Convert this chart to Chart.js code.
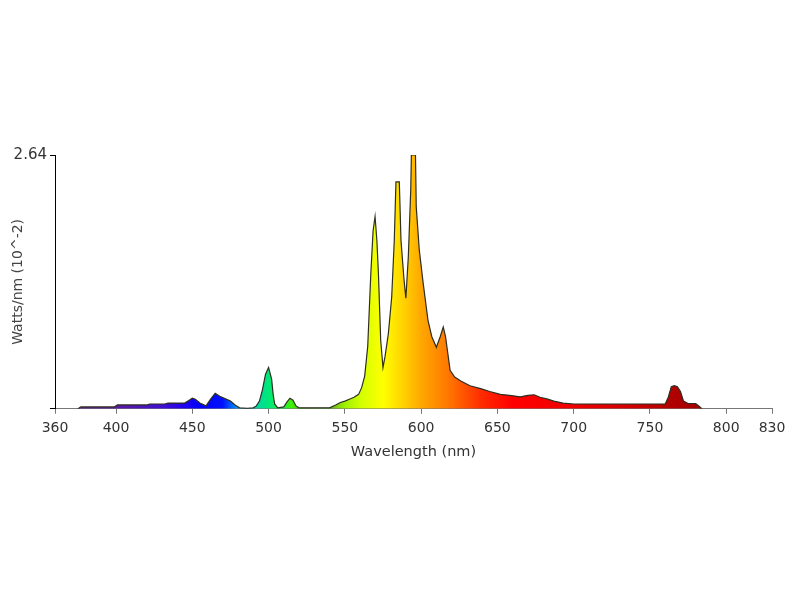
<!DOCTYPE html>
<html>
<head>
<meta charset="utf-8">
<script src="https://cdn.jsdelivr.net/npm/chart.js@4.4.1/dist/chart.umd.min.js"></script>
<style>
  body { margin: 0; background: #fff; }
  #wrap { width: 800px; height: 600px; }
</style>
</head>
<body>
<div id="wrap"><canvas id="spectrum"></canvas></div>
<script>
// wavelength (nm) and power (Watts/nm, x10^-2)
var wavelengths = [375, 377, 399, 401, 420, 422, 432, 434, 445, 448, 450, 452, 455, 459, 462, 465, 468, 471, 475, 478, 481, 486,
  490, 492, 494, 496, 498, 500, 502, 503, 504, 506, 510, 512, 514, 516, 518, 520, 540, 544, 547, 550, 553, 556, 559, 561, 563,
  565, 567, 568.5, 569.8, 571, 572, 573.5, 575, 576.3, 578.5, 580.7, 582.4, 583.5, 585.7, 586.8, 588.8, 590, 591.6, 593.2, 593.6,
  596.3, 596.8, 598.8, 601.4, 604.5, 607, 610, 612.5, 614.5, 616, 619, 622, 626, 632, 639, 645, 652, 658, 665, 670, 674, 678, 683,
  687, 693, 700, 760, 762, 764, 766, 768, 770, 772, 775, 780, 782, 784];
var power = [0, 0.02, 0.02, 0.04, 0.04, 0.05, 0.05, 0.06, 0.06, 0.09, 0.11, 0.10, 0.06, 0.03, 0.10, 0.16, 0.13, 0.11, 0.08, 0.04, 0.01, 0.005,
  0.01, 0.03, 0.08, 0.20, 0.36, 0.43, 0.31, 0.15, 0.05, 0.01, 0.02, 0.07, 0.11, 0.09, 0.03, 0.01, 0.01, 0.04, 0.065, 0.08, 0.10, 0.12, 0.15, 0.22, 0.34,
  0.65, 1.40, 1.85, 2.0, 1.75, 1.41, 0.71, 0.43, 0.54, 0.78, 1.16, 1.75, 2.36, 2.36, 1.75, 1.34, 1.15, 1.58, 2.28, 2.64,
  2.64, 2.10, 1.65, 1.30, 0.92, 0.75, 0.64, 0.75, 0.85, 0.75, 0.40, 0.33, 0.29, 0.24, 0.21, 0.18, 0.15, 0.14, 0.125, 0.14, 0.146, 0.12, 0.10,
  0.08, 0.06, 0.05, 0.05, 0.12, 0.23, 0.24, 0.23, 0.18, 0.08, 0.055, 0.055, 0.03, 0];
var xTicks = [360, 400, 450, 500, 550, 600, 650, 700, 750, 800, 830];
var yTicks = [0, 2.64];

// colour of the light at each wavelength, used for the fill
var stopNm = [375, 400, 430, 445, 455, 470, 480, 490, 500, 510, 515, 525, 540, 550, 560, 575, 590, 600, 620, 640, 660, 700, 740, 760, 785];
var stopColor = ['#5a1f8c', '#5a1aa0', '#4010d0', '#2000f0', '#0000ff', '#0010ff', '#00a0ff', '#00d0b0', '#00e878', '#20f040', '#40f000',
  '#4aa828', '#5cb020', '#a0f000', '#d0ff00', '#ffff00', '#ffcc00', '#ffa800', '#ff7000', '#ff2a00', '#ff0000', '#f00000', '#d00000', '#b40000', '#a00000'];

function spectrumFill(ctx) {
  var chart = ctx.chart;
  var area = chart.chartArea;
  if (!area) return null;
  var x = chart.scales.x;
  var g = chart.ctx.createLinearGradient(area.left, 0, area.right, 0);
  var w = area.right - area.left;
  for (var i = 0; i < stopNm.length; i++) {
    var p = (x.getPixelForValue(stopNm[i]) - area.left) / w;
    g.addColorStop(Math.min(1, Math.max(0, p)), stopColor[i]);
  }
  return g;
}

var points = wavelengths.map(function (w, i) { return { x: w, y: power[i] }; });

new Chart(document.getElementById('spectrum'), {
  type: 'line',
  data: {
    datasets: [{
      data: points,
      borderColor: '#2e2e22',
      borderWidth: 1.2,
      backgroundColor: spectrumFill,
      fill: 'origin',
      pointRadius: 0,
      tension: 0
    }]
  },
  options: {
    responsive: true,
    maintainAspectRatio: false,
    animation: false,
    layout: { padding: { left: 10, top: 155, right: 28, bottom: 139 } },
    plugins: { legend: { display: false }, tooltip: { enabled: false } },
    scales: {
      x: {
        type: 'linear',
        min: 360,
        max: 830,
        afterBuildTicks: function (s) { s.ticks = xTicks.map(function (v) { return { value: v }; }); },
        ticks: { color: '#333', font: { family: 'DejaVu Sans', size: 14 }, padding: 6, maxRotation: 0 },
        grid: { drawOnChartArea: false, drawTicks: true, tickLength: 5, color: '#777' },
        border: { display: true, color: '#777' },
        title: { display: true, text: 'Wavelength (nm)', color: '#333', font: { family: 'DejaVu Sans', size: 14.5 }, padding: { top: 1, bottom: 0 } }
      },
      y: {
        min: 0,
        max: 2.64,
        afterBuildTicks: function (s) { s.ticks = yTicks.map(function (v) { return { value: v }; }); },
        afterFit: function (s) { s.width = 45; },
        ticks: {
          color: '#333', font: { family: 'DejaVu Sans', size: 15 }, padding: 3,
          callback: function (v) { return v === 0 ? '' : v.toFixed(2); }
        },
        grid: { drawOnChartArea: false, drawTicks: true, tickLength: 5, color: '#000' },
        border: { display: true, color: '#000' },
        title: { display: true, text: 'Watts/nm (10^-2)', color: '#444', font: { family: 'DejaVu Sans', size: 14 }, padding: { top: 0, bottom: 0 } }
      }
    }
  }
});
</script>
</body>
</html>
